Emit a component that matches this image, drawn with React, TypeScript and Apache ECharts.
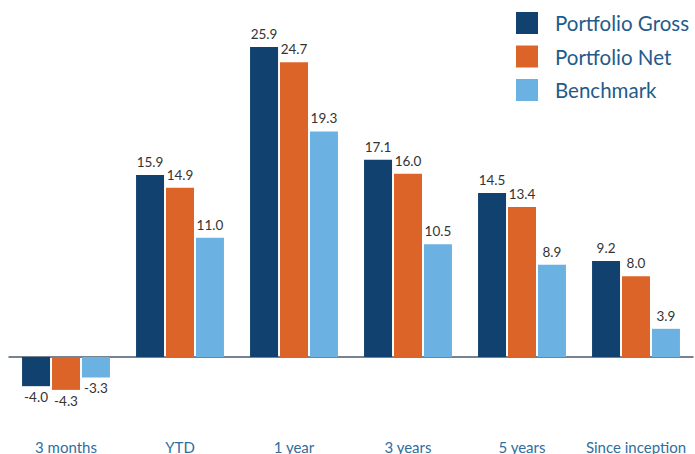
import React, { useEffect, useRef } from "react";
import * as echarts from "echarts";

const categories = ["3 months", "YTD", "1 year", "3 years", "5 years", "Since inception"];
const seriesNames = ["Portfolio Gross", "Portfolio Net", "Benchmark"];
const portfolioGross = [-4.0, 15.9, 25.9, 17.1, 14.5, 9.2];
const portfolioNet = [-4.3, 14.9, 24.7, 16.0, 13.4, 8.0];
const benchmark = [-3.3, 11.0, 19.3, 10.5, 8.9, 3.9];
const colors = ["#11426f", "#dd6428", "#6bb1e1"];

const FONT = "Lato, 'Open Sans', sans-serif";

export default function App() {
  const ref = useRef<HTMLDivElement>(null);
  useEffect(() => {
    if (!ref.current) return;
    const chart = echarts.init(ref.current, null, { renderer: "svg" });
    const allData = [portfolioGross, portfolioNet, benchmark];
    const series: any[] = [];
    allData.forEach((arr, i) => {
      series.push({
        name: seriesNames[i],
        type: "bar",
        xAxisIndex: 0,
        yAxisIndex: 0,
        barWidth: 28,
        barGap: "7%",
        itemStyle: { color: colors[i] },
        data: arr.map((v) => (v >= 0 ? v : "-")),
        label: {
          show: true,
          position: "top",
          distance: 6,
          color: "#333333",
          fontFamily: FONT,
          fontSize: 13.5,
          formatter: (p: any) => Number(p.value).toFixed(1),
        },
      });
    });
    allData.forEach((arr, i) => {
      series.push({
        name: seriesNames[i],
        type: "bar",
        xAxisIndex: 1,
        yAxisIndex: 1,
        barWidth: 28,
        barGap: "7%",
        itemStyle: { color: colors[i] },
        data: arr.map((v) => (v < 0 ? v : "-")),
        label: {
          show: true,
          position: "bottom",
          distance: 4,
          color: "#333333",
          fontFamily: FONT,
          fontSize: 13.5,
          formatter: (p: any) => Number(p.value).toFixed(1),
        },
      });
    });
    chart.setOption({
      animation: false,
      backgroundColor: "#ffffff",
      legend: {
        orient: "vertical",
        left: 511,
        top: 7,
        itemWidth: 22,
        itemHeight: 22,
        itemGap: 11.5,
        icon: "rect",
        data: seriesNames,
        textStyle: {
          color: "#1f5b8c",
          fontSize: 20.5,
          lineHeight: 22,
          fontFamily: FONT,
          padding: [0, 0, 0, 12],
        },
      },
      grid: [
        { left: 9, right: 2, top: 20, bottom: 97, containLabel: false },
        { left: 9, right: 2, top: 357, bottom: 41.2, containLabel: false },
      ],
      xAxis: [
        {
          type: "category",
          gridIndex: 0,
          data: categories,
          axisLine: { show: true, lineStyle: { color: "#4b5a6e", width: 1.5 } },
          axisTick: { show: false },
          axisLabel: { show: false },
        },
        {
          type: "category",
          gridIndex: 1,
          data: categories,
          position: "bottom",
          axisLine: { show: false },
          axisTick: { show: false },
          axisLabel: {
            show: true,
            margin: 28,
            color: "#2f6e9e",
            fontSize: 15,
            fontFamily: FONT,
            interval: 0,
          },
        },
      ],
      yAxis: [
        {
          type: "value",
          gridIndex: 0,
          min: 1.7,
          max: 28,
          show: false,
          splitLine: { show: false },
        },
        {
          type: "value",
          gridIndex: 1,
          min: -6,
          max: -1.65,
          show: false,
          splitLine: { show: false },
        },
      ],
      series,
    });
    return () => chart.dispose();
  }, []);
  return <div ref={ref} style={{ width: 695, height: 454, position: "absolute", left: 0, top: 0 }} />;
}
